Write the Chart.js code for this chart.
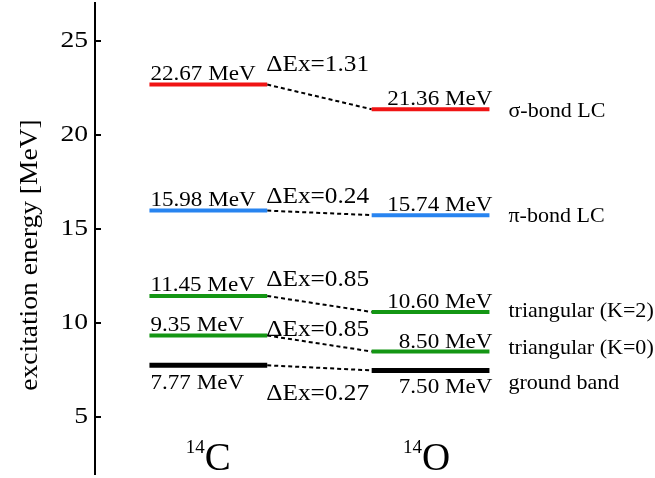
<!DOCTYPE html>
<html>
<head>
<meta charset="utf-8">
<script src="https://cdn.jsdelivr.net/npm/chart.js@4/dist/chart.umd.min.js"></script>
<style>
  html, body { margin: 0; padding: 0; background: #fff; }
  #wrap { width: 655px; height: 478px; }
</style>
</head>
<body>
<div id="wrap"><canvas id="chart"></canvas></div>
<script>
// level energies (MeV)
const nuclei = ['14C', '14O'];
const energiesC = [22.67, 15.98, 11.45, 9.35, 7.77];
const energiesO = [21.36, 15.74, 10.60, 8.50, 7.50];
const deltaEx = ['1.31', '0.24', '0.85', '0.85', '0.27'];
const bandNames = ['σ-bond LC', 'π-bond LC', 'triangular (K=2)', 'triangular (K=0)', 'ground band'];
const yTicks = [5, 10, 15, 20, 25];

// styles
const levelColors = ['#f01414', '#2884f0', '#149614', '#149614', '#000000'];
const levelWidths = [4, 4, 4, 4, 5];
const FONT = '"Liberation Serif", "Times New Roman", serif';

// x layout of the two columns (value units of the hidden x scale)
const colC = 1, colO = 2, halfW = 0.265;
// label tweaks (px)
const belowLabel = [false, false, false, false, true];
const deltaDy = [-13.6, -7.3, -10, 0, 34.7];
const nameDy = [7.4, 6.6, 4.7, 2, 19];

const datasets = [];
energiesC.forEach((e, i) => {
    datasets.push({
        data: [{ x: colC - halfW, y: e }, { x: colC + halfW, y: e }],
        borderColor: levelColors[i],
        borderWidth: levelWidths[i],
        borderCapStyle: 'butt',
    });
    datasets.push({
        data: [{ x: colO - halfW, y: energiesO[i] }, { x: colO + halfW, y: energiesO[i] }],
        borderColor: levelColors[i],
        borderWidth: levelWidths[i],
        borderCapStyle: 'butt',
    });
    datasets.push({
        data: [{ x: colC + halfW, y: e }, { x: colO - halfW, y: energiesO[i] }],
        borderColor: '#000',
        borderWidth: 2,
        borderDash: [4, 3],
    });
});

function drawText(ctx, s, x, y, size, align, sx) {
    ctx.save();
    ctx.font = size + 'px ' + FONT;
    ctx.fillStyle = '#000';
    ctx.translate(x, y);
    ctx.scale(sx || 1, 1);
    ctx.textAlign = align;
    ctx.textBaseline = 'alphabetic';
    ctx.fillText(s, 0, 0);
    ctx.restore();
}

const labelsPlugin = {
    id: 'levelLabels',
    afterDraw(chart) {
        const ctx = chart.ctx;
        const xs = chart.scales.x, ys = chart.scales.y;
        const area = chart.chartArea;

        // inward tick marks + tick labels
        ctx.save();
        ctx.strokeStyle = '#000';
        ctx.lineWidth = 2;
        yTicks.forEach(v => {
            const py = Math.round(ys.getPixelForValue(v));
            ctx.beginPath();
            ctx.moveTo(area.left, py);
            ctx.lineTo(area.left + 6, py);
            ctx.stroke();
            drawText(ctx, String(v), area.left - 7, py + 6, 24, 'right', 1.15);
        });
        ctx.restore();

        // y title
        ctx.save();
        ctx.translate(30, 255);
        ctx.rotate(-Math.PI / 2);
        ctx.scale(1.1, 1);
        ctx.font = '25px ' + FONT;
        ctx.fillStyle = '#000';
        ctx.textAlign = 'center';
        ctx.textBaseline = 'middle';
        ctx.fillText('excitation energy [MeV]', 0, 0);
        ctx.restore();

        const cL = xs.getPixelForValue(colC - halfW);
        const cR = xs.getPixelForValue(colC + halfW);
        const oR = xs.getPixelForValue(colO + halfW);

        energiesC.forEach((e, i) => {
            const yc = ys.getPixelForValue(e);
            const yo = ys.getPixelForValue(energiesO[i]);
            const below = belowLabel[i];
            drawText(ctx, e.toFixed(2) + ' MeV', cL + 1, below ? yc + 24 : yc - 4.5, 21, 'left', 1.1);
            drawText(ctx, energiesO[i].toFixed(2) + ' MeV', oR + 3, below ? yo + 22.6 : yo - 4, 21, 'right', 1.1);
            drawText(ctx, 'ΔEx=' + deltaEx[i], cR - 1, yc + deltaDy[i], 23, 'left', 1.1);
            drawText(ctx, bandNames[i], oR + 19, yo + nameDy[i], 21, 'left', 1.05);
        });

        // nucleus labels
        [colC, colO].forEach((c, i) => {
            const sym = nuclei[i].slice(2);
            const cx = xs.getPixelForValue(c) - (i === 1 ? 4 : 0);
            ctx.save();
            ctx.font = '19px ' + FONT;
            const w1 = ctx.measureText('14').width;
            ctx.font = '39px ' + FONT;
            const w2 = ctx.measureText(sym).width;
            ctx.restore();
            const x0 = cx - (w1 + w2) / 2;
            drawText(ctx, '14', x0, 453, 19, 'left', 1);
            drawText(ctx, sym, x0 + w1, 470, 39, 'left', 1);
        });
    }
};

new Chart(document.getElementById('chart'), {
    type: 'line',
    data: { datasets: datasets },
    options: {
        responsive: true,
        maintainAspectRatio: false,
        animation: false,
        layout: { padding: { top: 3, bottom: 4, left: 0, right: 0 } },
        plugins: {
            legend: { display: false },
            tooltip: { enabled: false },
        },
        elements: { point: { radius: 0 }, line: { tension: 0 } },
        scales: {
            x: {
                type: 'linear',
                display: false,
                min: 0.49,
                max: 3.01,
            },
            y: {
                type: 'linear',
                min: 2,
                max: 27,
                afterFit: (scale) => {
                    scale.width = 95;
                    scale.paddingTop = 0;
                    scale.paddingBottom = 0;
                },
                afterBuildTicks: (scale) => { scale.ticks = yTicks.map(v => ({ value: v })); },
                grid: { drawOnChartArea: false, drawTicks: false },
                border: { display: true, color: '#000', width: 2 },
                // labels are drawn by the plugin (Times-like, slightly wide)
                ticks: { display: false },
            },
        },
    },
    plugins: [labelsPlugin],
});
</script>
</body>
</html>
